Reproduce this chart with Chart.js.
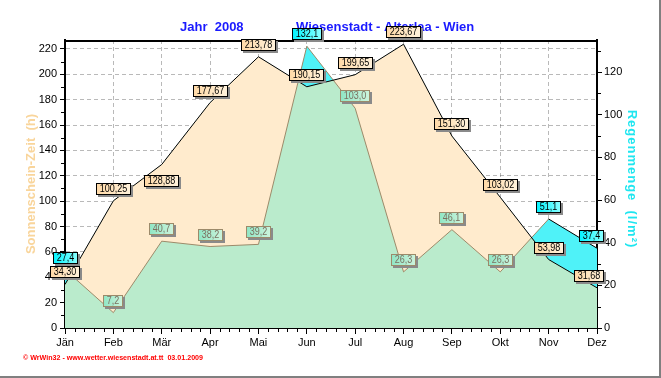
<!DOCTYPE html>
<html>
<head>
<meta charset="utf-8">
<script src="https://cdn.jsdelivr.net/npm/chart.js@4.4.0/dist/chart.umd.min.js"></script>
<style>
  html, body { margin: 0; padding: 0; background: #fff; }
</style>
</head>
<body>
<canvas id="chart" width="661" height="378"></canvas>
<script>
// Sonnenschein und Regen 2008, Wiesenstadt
var months = ["Jän", "Feb", "Mär", "Apr", "Mai", "Jun", "Jul", "Aug", "Sep", "Okt", "Nov", "Dez"];
var sunHours = [34.30, 100.25, 128.88, 177.67, 213.78, 190.15, 199.65, 223.67, 151.30, 103.02, 53.98, 31.68];
var rainMm = [27.4, 7.2, 40.7, 38.2, 39.2, 132.1, 103.0, 26.3, 46.1, 26.3, 51.1, 37.4];
var sunTicks = [0, 20, 40, 60, 80, 100, 120, 140, 160, 180, 200, 220];
var rainTicks = [0, 20, 40, 60, 80, 100, 120];

var BEIGE = '#FFEBCD';
var GREEN = '#BAEBCC';
var CYAN = '#4FF2F8';
var RAIN_LINE = '#9C8A6A';
var GRID = 'rgba(80,80,80,0.4)';

function fmt(v, d) {
    return v.toFixed(d).replace('.', ',');
}

function rainAbove(c, i, y) {
    var s = c.chart.getDatasetMeta(0).data[i];
    return s && y < s.y;
}

// kleine Wertekästchen
function drawBox(ctx, text, cx, cy, style) {
    ctx.font = '10px Arial';
    var tw = ctx.measureText(text).width * 0.9;
    var w = Math.round(tw + 7), h = 12;
    var x0 = Math.round(cx - w / 2), y0 = Math.round(cy - h / 2);
    if (x0 + w > 604) x0 = 604 - w;
    ctx.fillStyle = '#8a8a8a';
    ctx.fillRect(x0 + 2, y0 + 2, w, h);
    var g = ctx.createLinearGradient(x0, 0, x0 + w, 0);
    g.addColorStop(0, style.fill[0]);
    g.addColorStop(1, style.fill[1]);
    ctx.fillStyle = g;
    ctx.fillRect(x0, y0, w, h);
    ctx.strokeStyle = style.border;
    ctx.lineWidth = 1;
    ctx.strokeRect(x0 + 0.5, y0 + 0.5, w - 1, h - 1);
    ctx.fillStyle = style.text;
    ctx.textAlign = 'center';
    ctx.textBaseline = 'middle';
    ctx.fillText(text, x0 + w / 2, y0 + h / 2 + 0.5, tw);
}

var sunBox = {fill: ['#FFD9A6', '#FFF2DC'], border: '#000', text: '#000'};
var greenBox = {fill: ['#8FE6C4', '#CDF3DC'], border: '#9C8A6A', text: '#7A7060'};
var cyanBox = {fill: ['#00F4FF', '#8CFFFF'], border: '#000', text: '#000'};
var sunLabelDy = {2: 17};

var decorations = {
    id: 'decorations',
    afterDraw: function (chart) {
        var ctx = chart.ctx;
        var a = chart.chartArea;
        var x = chart.scales.x, y = chart.scales.y, y1 = chart.scales.y1;
        ctx.save();

        // Rahmen oben
        ctx.fillStyle = '#000';
        ctx.fillRect(a.left, a.top, a.right - a.left, 2);

        // Nebenteilstriche
        var i, v, p;
        for (i = 0; i < months.length - 1; i++) {
            for (var k = 1; k < 5; k++) {
                p = Math.round(x.getPixelForValue(i + k / 5));
                ctx.fillRect(p, a.bottom, 1, 4);
            }
        }
        for (v = 10; v < 227; v += 20) {
            p = Math.round(y.getPixelForValue(v));
            ctx.fillRect(a.left - 4, p, 3, 1);
        }
        for (v = 10; v < 135; v += 20) {
            p = Math.round(y1.getPixelForValue(v));
            ctx.fillRect(a.right + 1, p, 3, 1);
        }

        // Titel
        ctx.fillStyle = '#1a1aff';
        ctx.font = 'bold 13px Arial';
        ctx.textAlign = 'left';
        ctx.textBaseline = 'alphabetic';
        ctx.fillText('Jahr  2008', 180, 31);
        ctx.fillText('Wiesenstadt - Alterlaa - Wien', 296, 31);

        // Achsentitel
        ctx.save();
        ctx.translate(31, 184);
        ctx.rotate(-Math.PI / 2);
        ctx.fillStyle = '#F9D59B';
        ctx.font = 'bold 13px Arial';
        ctx.textAlign = 'center';
        ctx.textBaseline = 'middle';
        ctx.fillText('Sonnenschein-Zeit  (h)', 0, 0);
        ctx.restore();

        ctx.save();
        ctx.translate(632, 179);
        ctx.rotate(Math.PI / 2);
        ctx.fillStyle = '#1EE6F0';
        ctx.font = 'bold 13px Arial';
        ctx.letterSpacing = '1px';
        ctx.textAlign = 'center';
        ctx.textBaseline = 'middle';
        ctx.fillText('Regenmenge  (l/m\u00B2)', 0, 0);
        ctx.restore();

        // Fußzeile
        ctx.fillStyle = '#ff0000';
        ctx.font = 'bold 8px Arial';
        ctx.textAlign = 'left';
        ctx.textBaseline = 'middle';
        ctx.fillText('\u00A9 WrWin32 - www.wetter.wiesenstadt.at.tt  03.01.2009', 23, 358, 180);

        // grauer Rand
        ctx.fillStyle = '#808080';
        ctx.fillRect(659, 0, 2, 378);
        ctx.fillRect(0, 376, 661, 2);

        // Werte
        var sunMeta = chart.getDatasetMeta(0);
        var rainMeta = chart.getDatasetMeta(3);
        rainMeta.data.forEach(function (pt, j) {
            var above = pt.y < sunMeta.data[j].y;
            drawBox(ctx, fmt(rainMm[j], 1), pt.x, pt.y - 12, above ? cyanBox : greenBox);
        });
        sunMeta.data.forEach(function (pt, j) {
            var dy = sunLabelDy[j] !== undefined ? sunLabelDy[j] : -12;
            drawBox(ctx, fmt(sunHours[j], 2), pt.x, pt.y + dy, sunBox);
        });
        ctx.restore();
    }
};

var ctx = document.getElementById('chart').getContext('2d');
var chart = new Chart(ctx, {
    type: 'line',
    data: {
        labels: months,
        datasets: [
            {
                label: 'Sonnenschein',
                data: sunHours,
                yAxisID: 'y',
                borderColor: '#000',
                borderWidth: 1,
                pointRadius: 0,
                fill: false
            },
            {
                label: 'Regen Linie',
                data: rainMm,
                yAxisID: 'y1',
                borderWidth: 1,
                borderColor: RAIN_LINE,
                pointRadius: 0,
                fill: false,
                segment: {
                    borderColor: function (c) {
                        return (rainAbove(c, c.p0DataIndex, c.p0.y) && rainAbove(c, c.p1DataIndex, c.p1.y)) ? '#000' : RAIN_LINE;
                    }
                }
            },
            {
                label: 'Regen ueber Sonne',
                data: rainMm,
                yAxisID: 'y1',
                borderWidth: 0,
                pointRadius: 0,
                fill: {target: 0, above: CYAN, below: 'rgba(0,0,0,0)'}
            },
            {
                label: 'Regenmenge',
                data: rainMm,
                yAxisID: 'y1',
                borderWidth: 0,
                backgroundColor: GREEN,
                pointRadius: 0,
                fill: 'origin'
            },
            {
                label: 'Sonnenschein Flaeche',
                data: sunHours,
                yAxisID: 'y',
                borderWidth: 0,
                backgroundColor: BEIGE,
                pointRadius: 0,
                fill: 'origin'
            }
        ]
    },
    options: {
        responsive: false,
        animation: false,
        events: [],
        layout: {padding: {top: 40, left: 0, right: 0, bottom: 0}},
        plugins: {
            legend: {display: false},
            tooltip: {enabled: false},
            title: {display: false}
        },
        scales: {
            x: {
                offset: false,
                z: 1,
                afterFit: function (s) { s.height = 50; },
                grid: {color: GRID, tickColor: '#000', tickLength: 6, lineWidth: 1},
                border: {display: true, color: '#000', width: 2, dash: [4, 3]},
                ticks: {color: '#000', font: {family: 'Arial', size: 11}, padding: 2, maxRotation: 0, autoSkip: false}
            },
            y: {
                position: 'left',
                min: 0,
                max: 227,
                z: 1,
                afterFit: function (s) { s.width = 65; },
                afterBuildTicks: function (s) { s.ticks = sunTicks.map(function (v) { return {value: v}; }); },
                grid: {color: GRID, tickColor: '#000', tickLength: 5},
                border: {display: true, color: '#000', width: 2, dash: [4, 3]},
                ticks: {color: '#000', font: {family: 'Arial', size: 11}, padding: 3}
            },
            y1: {
                position: 'right',
                min: 0,
                max: 135,
                z: 1,
                afterFit: function (s) { s.width = 64; },
                afterBuildTicks: function (s) { s.ticks = rainTicks.map(function (v) { return {value: v}; }); },
                grid: {drawOnChartArea: false, tickColor: '#000', tickLength: 5},
                border: {display: true, color: '#000', width: 2},
                ticks: {color: '#000', font: {family: 'Arial', size: 11}, padding: 2}
            }
        }
    },
    plugins: [decorations]
});
</script>
</body>
</html>
